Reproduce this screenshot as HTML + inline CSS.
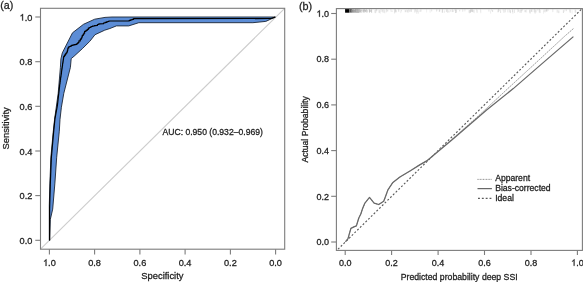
<!DOCTYPE html>
<html><head><meta charset="utf-8"><title>ROC and calibration</title><style>
html,body{margin:0;padding:0;background:#fff;width:583px;height:282px;overflow:hidden}
svg{display:block}
text{font-family:"Liberation Sans",sans-serif;fill:#1e1e1e;stroke:#1e1e1e;stroke-width:0.28px}
</style></head><body>
<svg width="583" height="282" viewBox="0 0 583 282">
<defs><filter id="bl" x="0" y="0" width="1" height="1"><feGaussianBlur stdDeviation="0.35"/></filter><clipPath id="rc"><rect x="336.4" y="8.6" width="246" height="241.8"/></clipPath></defs>
<g filter="url(#bl)">
<rect width="583" height="282" fill="#fff"/>
<g id="left">
<line x1="40.5" y1="249.2" x2="284.7" y2="8.3" stroke="#cdcdcd" stroke-width="1.1"/>
<polygon points="49.3,240.3 49.3,222.0 49.3,205.1 49.9,183.1 50.9,157.2 53.3,131.2 54.6,119.3 58.2,93.3 60.4,67.4 60.9,58.9 62.3,52.9 72.5,32.8 83.5,24.3 94.7,19.2 105.0,17.4 112.0,17.0 275.3,17.0 275.3,17.0 265.8,21.4 252.9,22.7 138.8,22.7 128.7,25.9 116.4,25.9 109.9,28.5 104.7,30.2 95.0,34.7 89.8,41.3 82.3,48.7 74.1,56.2 71.2,58.6 70.4,67.4 63.8,93.3 61.4,107.2 60.0,119.3 59.3,131.2 56.7,157.2 54.9,183.1 52.7,209.1 50.3,219.5 49.6,240.3" fill="#5b8dd6" stroke="#1c2636" stroke-width="0.9" stroke-linejoin="miter"/>
<polyline points="49.6,240.4 49.6,222.0 49.6,209.1 50.3,184.1 51.3,158.2 53.6,132.2 55.0,118.3 57.4,105.3 58.9,92.3 59.6,86.3 59.6,86.3 59.6,85.1 59.8,85.1 59.8,83.8 60.0,83.8 60.0,82.6 60.1,82.6 60.1,81.4 60.3,81.4 60.3,80.1 60.5,80.1 60.5,78.9 60.6,78.9 60.6,77.6 60.8,77.6 60.8,76.4 61.0,76.4 61.0,75.0 61.2,75.0 61.2,73.7 61.4,73.7 61.4,72.4 61.5,72.4 61.5,71.0 61.7,71.0 61.7,69.7 61.9,69.7 61.9,68.4 62.1,68.4 62.1,67.2 62.3,67.2 62.3,66.0 62.5,66.0 62.5,64.8 62.6,64.8 62.6,63.6 62.8,63.6 62.8,62.4 63.0,62.4 63.0,61.2 63.2,61.2 63.2,60.1 63.4,60.1 63.4,58.9 63.5,58.9 63.5,57.7 63.7,57.7 63.7,56.4 64.5,56.4 64.5,55.2 65.4,55.2 65.4,53.9 66.2,53.9 66.2,52.9 66.8,52.9 66.8,51.9 67.4,51.9 67.4,50.4 67.7,50.4 67.7,48.9 68.0,48.9 68.0,47.9 68.7,47.9 68.7,46.8 69.4,46.8 69.4,46.5 70.4,46.5 70.4,46.1 71.4,46.1 71.4,45.4 72.4,45.4 72.4,45.2 73.4,45.2 73.4,44.9 74.4,44.9 74.4,44.7 75.7,44.7 75.7,44.4 76.9,44.4 76.9,43.5 77.9,43.5 77.9,42.6 78.9,42.6 78.9,40.9 80.3,40.9 80.3,39.2 81.3,39.2 81.3,38.1 81.8,38.1 81.8,36.9 82.3,36.9 82.3,35.3 83.3,35.3 83.3,34.2 83.9,34.2 83.9,33.2 84.6,33.2 84.6,31.3 86.0,31.3 86.0,30.4 87.2,30.4 87.2,29.5 88.3,29.5 88.3,28.1 89.4,28.1 89.4,27.5 90.9,27.5 90.9,26.5 92.4,26.5 92.4,26.2 93.4,26.2 93.4,26.0 94.4,26.0 94.4,25.7 95.9,25.7 95.9,25.5 97.4,25.5 97.4,24.5 98.8,24.5 98.8,23.8 100.0,23.8 103.5,23.7 103.5,23.0 105.0,23.0 105.0,22.4 106.5,22.4 106.5,21.9 107.6,21.9 107.6,21.5 108.8,21.5 108.8,21.0 109.9,21.0 129.2,21.0 129.2,20.4 130.6,20.4 130.6,19.8 132.1,19.8 132.1,19.3 133.6,19.3 133.6,18.7 135.0,18.7 271.0,18.5 275.3,17.1" fill="none" stroke="#000" stroke-width="1.2" stroke-linejoin="round"/>
<rect x="40.5" y="8.3" width="244.2" height="240.9" fill="none" stroke="#7c7c7c" stroke-width="1.1"/>
<line x1="35.3" y1="240.3" x2="40.5" y2="240.3" stroke="#7c7c7c" stroke-width="1.1"/>
<text x="32.4" y="243.8" font-size="9.2" text-anchor="end">0.0</text>
<line x1="35.3" y1="195.6" x2="40.5" y2="195.6" stroke="#7c7c7c" stroke-width="1.1"/>
<text x="32.4" y="199.1" font-size="9.2" text-anchor="end">0.2</text>
<line x1="35.3" y1="151.0" x2="40.5" y2="151.0" stroke="#7c7c7c" stroke-width="1.1"/>
<text x="32.4" y="154.5" font-size="9.2" text-anchor="end">0.4</text>
<line x1="35.3" y1="106.3" x2="40.5" y2="106.3" stroke="#7c7c7c" stroke-width="1.1"/>
<text x="32.4" y="109.8" font-size="9.2" text-anchor="end">0.6</text>
<line x1="35.3" y1="61.7" x2="40.5" y2="61.7" stroke="#7c7c7c" stroke-width="1.1"/>
<text x="32.4" y="65.2" font-size="9.2" text-anchor="end">0.8</text>
<line x1="35.3" y1="17.0" x2="40.5" y2="17.0" stroke="#7c7c7c" stroke-width="1.1"/>
<path transform="translate(19.61,20.50) scale(0.00449,-0.00449)" d="M763 0H583V1147Q518 1085 412 1023Q307 961 223 930V1104Q374 1175 487 1276Q600 1377 647 1472H763Z" fill="#1e1e1e" stroke="#1e1e1e" stroke-width="62.3"/><text x="24.73" y="20.5" font-size="9.2">.0</text>
<line x1="49.4" y1="249.2" x2="49.4" y2="254.4" stroke="#7c7c7c" stroke-width="1.1"/>
<path transform="translate(43.01,265.90) scale(0.00449,-0.00449)" d="M763 0H583V1147Q518 1085 412 1023Q307 961 223 930V1104Q374 1175 487 1276Q600 1377 647 1472H763Z" fill="#1e1e1e" stroke="#1e1e1e" stroke-width="62.3"/><text x="48.12" y="265.9" font-size="9.2">.0</text>
<line x1="94.6" y1="249.2" x2="94.6" y2="254.4" stroke="#7c7c7c" stroke-width="1.1"/>
<text x="94.6" y="265.9" font-size="9.2" text-anchor="middle">0.8</text>
<line x1="139.9" y1="249.2" x2="139.9" y2="254.4" stroke="#7c7c7c" stroke-width="1.1"/>
<text x="139.9" y="265.9" font-size="9.2" text-anchor="middle">0.6</text>
<line x1="185.1" y1="249.2" x2="185.1" y2="254.4" stroke="#7c7c7c" stroke-width="1.1"/>
<text x="185.1" y="265.9" font-size="9.2" text-anchor="middle">0.4</text>
<line x1="230.4" y1="249.2" x2="230.4" y2="254.4" stroke="#7c7c7c" stroke-width="1.1"/>
<text x="230.4" y="265.9" font-size="9.2" text-anchor="middle">0.2</text>
<line x1="275.6" y1="249.2" x2="275.6" y2="254.4" stroke="#7c7c7c" stroke-width="1.1"/>
<text x="275.6" y="265.9" font-size="9.2" text-anchor="middle">0.0</text>
<text x="162.4" y="279.4" font-size="9.4" text-anchor="middle">Specificity</text>
<text transform="translate(9.3,128.4) rotate(-90)" font-size="9.4" text-anchor="middle">Sensitivity</text>
<text x="162.5" y="135" font-size="8.6">AUC: 0.950 (0.932&#8211;0.969)</text>
<text x="0.3" y="8.9" font-size="10.7">(a)</text>
</g>
<g id="right">
<g><rect x="345.1" y="8.8" width="4.2" height="3.9" fill="#000"/><rect x="349.3" y="9" width="2.6" height="3.6" fill="#5a5a5a"/><line x1="352.8" y1="9.4" x2="352.8" y2="12.1" stroke="#8c8c8c" stroke-width="0.5"/><line x1="355.4" y1="9.5" x2="355.4" y2="11.6" stroke="#8c8c8c" stroke-width="0.5"/><line x1="351.9" y1="9.7" x2="351.9" y2="11.9" stroke="#8c8c8c" stroke-width="0.5"/><line x1="352.8" y1="9.8" x2="352.8" y2="12.2" stroke="#8c8c8c" stroke-width="0.5"/><line x1="357.4" y1="9.4" x2="357.4" y2="12.5" stroke="#8c8c8c" stroke-width="0.5"/><line x1="352.4" y1="9.5" x2="352.4" y2="12.8" stroke="#8c8c8c" stroke-width="0.5"/><line x1="354.7" y1="9.6" x2="354.7" y2="12.5" stroke="#8c8c8c" stroke-width="0.5"/><line x1="352.0" y1="9.6" x2="352.0" y2="12.4" stroke="#8c8c8c" stroke-width="0.5"/><line x1="353.2" y1="9.0" x2="353.2" y2="12.8" stroke="#8c8c8c" stroke-width="0.5"/><line x1="354.4" y1="9.6" x2="354.4" y2="12.8" stroke="#8c8c8c" stroke-width="0.5"/><line x1="356.3" y1="9.7" x2="356.3" y2="12.1" stroke="#8c8c8c" stroke-width="0.5"/><line x1="357.0" y1="9.4" x2="357.0" y2="12.9" stroke="#8c8c8c" stroke-width="0.5"/><line x1="357.7" y1="9.1" x2="357.7" y2="11.7" stroke="#8c8c8c" stroke-width="0.5"/><line x1="352.7" y1="9.8" x2="352.7" y2="12.2" stroke="#8c8c8c" stroke-width="0.5"/><line x1="355.5" y1="9.2" x2="355.5" y2="12.3" stroke="#8c8c8c" stroke-width="0.5"/><line x1="353.7" y1="9.3" x2="353.7" y2="12.4" stroke="#8c8c8c" stroke-width="0.5"/><line x1="355.2" y1="9.7" x2="355.2" y2="12.5" stroke="#8c8c8c" stroke-width="0.5"/><line x1="358.2" y1="9.7" x2="358.2" y2="13.0" stroke="#8c8c8c" stroke-width="0.5"/><line x1="355.9" y1="9.1" x2="355.9" y2="12.8" stroke="#8c8c8c" stroke-width="0.5"/><line x1="358.6" y1="9.7" x2="358.6" y2="12.4" stroke="#8c8c8c" stroke-width="0.5"/><line x1="356.3" y1="9.2" x2="356.3" y2="12.7" stroke="#8c8c8c" stroke-width="0.5"/><line x1="355.1" y1="9.2" x2="355.1" y2="11.6" stroke="#8c8c8c" stroke-width="0.5"/><line x1="357.5" y1="9.8" x2="357.5" y2="11.6" stroke="#8c8c8c" stroke-width="0.5"/><line x1="357.0" y1="9.3" x2="357.0" y2="11.7" stroke="#8c8c8c" stroke-width="0.5"/><line x1="353.2" y1="9.6" x2="353.2" y2="12.8" stroke="#8c8c8c" stroke-width="0.5"/><line x1="352.0" y1="9.5" x2="352.0" y2="11.6" stroke="#8c8c8c" stroke-width="0.5"/><line x1="366.8" y1="9.4" x2="366.8" y2="12.8" stroke="#b8b8b8" stroke-width="0.5"/><line x1="371.6" y1="9.6" x2="371.6" y2="13.0" stroke="#b8b8b8" stroke-width="0.5"/><line x1="359.9" y1="9.1" x2="359.9" y2="12.2" stroke="#b8b8b8" stroke-width="0.5"/><line x1="356.3" y1="9.2" x2="356.3" y2="11.8" stroke="#b8b8b8" stroke-width="0.5"/><line x1="364.8" y1="9.2" x2="364.8" y2="11.1" stroke="#b8b8b8" stroke-width="0.5"/><line x1="369.5" y1="9.4" x2="369.5" y2="12.9" stroke="#b8b8b8" stroke-width="0.5"/><line x1="370.0" y1="9.5" x2="370.0" y2="11.9" stroke="#b8b8b8" stroke-width="0.5"/><line x1="363.3" y1="9.8" x2="363.3" y2="12.2" stroke="#b8b8b8" stroke-width="0.5"/><line x1="364.0" y1="9.7" x2="364.0" y2="12.9" stroke="#b8b8b8" stroke-width="0.5"/><line x1="363.1" y1="9.5" x2="363.1" y2="12.4" stroke="#b8b8b8" stroke-width="0.5"/><line x1="358.9" y1="9.4" x2="358.9" y2="13.0" stroke="#b8b8b8" stroke-width="0.5"/><line x1="363.3" y1="9.7" x2="363.3" y2="11.0" stroke="#b8b8b8" stroke-width="0.5"/><line x1="361.6" y1="9.7" x2="361.6" y2="11.0" stroke="#b8b8b8" stroke-width="0.5"/><line x1="364.9" y1="9.8" x2="364.9" y2="11.1" stroke="#b8b8b8" stroke-width="0.5"/><line x1="365.1" y1="9.6" x2="365.1" y2="12.4" stroke="#b8b8b8" stroke-width="0.5"/><line x1="360.6" y1="9.8" x2="360.6" y2="12.5" stroke="#b8b8b8" stroke-width="0.5"/><line x1="356.2" y1="9.1" x2="356.2" y2="12.4" stroke="#b8b8b8" stroke-width="0.5"/><line x1="371.3" y1="9.3" x2="371.3" y2="11.9" stroke="#b8b8b8" stroke-width="0.5"/><line x1="364.5" y1="9.4" x2="364.5" y2="11.7" stroke="#b8b8b8" stroke-width="0.5"/><line x1="360.0" y1="9.4" x2="360.0" y2="12.2" stroke="#b8b8b8" stroke-width="0.5"/><line x1="359.8" y1="9.5" x2="359.8" y2="12.5" stroke="#b8b8b8" stroke-width="0.5"/><line x1="356.2" y1="9.7" x2="356.2" y2="12.5" stroke="#b8b8b8" stroke-width="0.5"/><line x1="359.9" y1="9.3" x2="359.9" y2="12.6" stroke="#b8b8b8" stroke-width="0.5"/><line x1="358.9" y1="9.2" x2="358.9" y2="11.9" stroke="#b8b8b8" stroke-width="0.5"/><line x1="366.4" y1="9.1" x2="366.4" y2="11.6" stroke="#b8b8b8" stroke-width="0.5"/><line x1="360.3" y1="10.0" x2="360.3" y2="11.9" stroke="#b8b8b8" stroke-width="0.5"/><line x1="369.3" y1="9.2" x2="369.3" y2="11.7" stroke="#b8b8b8" stroke-width="0.5"/><line x1="365.5" y1="10.1" x2="365.5" y2="11.9" stroke="#b8b8b8" stroke-width="0.5"/><line x1="358.7" y1="9.1" x2="358.7" y2="12.1" stroke="#b8b8b8" stroke-width="0.5"/><line x1="358.2" y1="10.0" x2="358.2" y2="12.7" stroke="#b8b8b8" stroke-width="0.5"/><line x1="358.1" y1="9.3" x2="358.1" y2="12.6" stroke="#b8b8b8" stroke-width="0.5"/><line x1="365.4" y1="10.0" x2="365.4" y2="11.7" stroke="#b8b8b8" stroke-width="0.5"/><line x1="357.4" y1="9.4" x2="357.4" y2="12.6" stroke="#b8b8b8" stroke-width="0.5"/><line x1="359.3" y1="9.4" x2="359.3" y2="11.8" stroke="#b8b8b8" stroke-width="0.5"/><line x1="361.6" y1="9.5" x2="361.6" y2="12.8" stroke="#b8b8b8" stroke-width="0.5"/><line x1="357.7" y1="9.0" x2="357.7" y2="12.9" stroke="#b8b8b8" stroke-width="0.5"/><line x1="369.7" y1="10.2" x2="369.7" y2="11.9" stroke="#b8b8b8" stroke-width="0.5"/><line x1="371.0" y1="10.1" x2="371.0" y2="11.4" stroke="#b8b8b8" stroke-width="0.5"/><line x1="367.2" y1="10.0" x2="367.2" y2="12.3" stroke="#b8b8b8" stroke-width="0.5"/><line x1="363.3" y1="9.3" x2="363.3" y2="11.7" stroke="#b8b8b8" stroke-width="0.5"/><line x1="416.9" y1="10.3" x2="416.9" y2="13.7" stroke="#d0d0d0" stroke-width="0.6"/><line x1="394.7" y1="9.1" x2="394.7" y2="12.4" stroke="#d8d8d8" stroke-width="0.6"/><line x1="512.9" y1="10.3" x2="512.9" y2="13.6" stroke="#d8d8d8" stroke-width="0.6"/><line x1="488.9" y1="9.7" x2="488.9" y2="11.5" stroke="#d0d0d0" stroke-width="0.6"/><line x1="473.7" y1="10.0" x2="473.7" y2="12.5" stroke="#d8d8d8" stroke-width="0.6"/><line x1="455.2" y1="9.2" x2="455.2" y2="10.9" stroke="#c8c8c8" stroke-width="0.6"/><line x1="570.2" y1="9.7" x2="570.2" y2="12.8" stroke="#c8c8c8" stroke-width="0.6"/><line x1="442.5" y1="9.2" x2="442.5" y2="12.5" stroke="#d8d8d8" stroke-width="0.6"/><line x1="394.6" y1="10.2" x2="394.6" y2="13.5" stroke="#d8d8d8" stroke-width="0.6"/><line x1="536.0" y1="9.7" x2="536.0" y2="12.4" stroke="#d0d0d0" stroke-width="0.6"/><line x1="452.5" y1="9.4" x2="452.5" y2="12.1" stroke="#e0e0e0" stroke-width="0.6"/><line x1="477.1" y1="9.7" x2="477.1" y2="12.8" stroke="#d0d0d0" stroke-width="0.6"/><line x1="370.4" y1="10.2" x2="370.4" y2="11.8" stroke="#d0d0d0" stroke-width="0.6"/><line x1="380.3" y1="10.5" x2="380.3" y2="13.7" stroke="#e6e6e6" stroke-width="0.6"/><line x1="387.7" y1="9.7" x2="387.7" y2="11.5" stroke="#c8c8c8" stroke-width="0.6"/><line x1="384.8" y1="10.0" x2="384.8" y2="12.6" stroke="#e6e6e6" stroke-width="0.6"/><line x1="444.3" y1="10.5" x2="444.3" y2="12.8" stroke="#d8d8d8" stroke-width="0.6"/><line x1="396.3" y1="10.1" x2="396.3" y2="12.3" stroke="#d0d0d0" stroke-width="0.6"/><line x1="386.5" y1="9.1" x2="386.5" y2="11.5" stroke="#d8d8d8" stroke-width="0.6"/><line x1="504.0" y1="9.6" x2="504.0" y2="12.7" stroke="#c8c8c8" stroke-width="0.6"/><line x1="498.3" y1="9.1" x2="498.3" y2="11.8" stroke="#e6e6e6" stroke-width="0.6"/><line x1="526.6" y1="9.6" x2="526.6" y2="12.5" stroke="#e0e0e0" stroke-width="0.6"/><line x1="464.9" y1="9.3" x2="464.9" y2="11.4" stroke="#d8d8d8" stroke-width="0.6"/><line x1="491.5" y1="9.3" x2="491.5" y2="11.1" stroke="#e6e6e6" stroke-width="0.6"/><line x1="375.8" y1="9.6" x2="375.8" y2="12.9" stroke="#e0e0e0" stroke-width="0.6"/><line x1="532.9" y1="9.2" x2="532.9" y2="12.1" stroke="#e0e0e0" stroke-width="0.6"/><line x1="563.4" y1="10.2" x2="563.4" y2="13.0" stroke="#c8c8c8" stroke-width="0.6"/><line x1="521.1" y1="9.8" x2="521.1" y2="12.9" stroke="#c8c8c8" stroke-width="0.6"/><line x1="517.6" y1="9.2" x2="517.6" y2="12.3" stroke="#e6e6e6" stroke-width="0.6"/><line x1="379.1" y1="9.8" x2="379.1" y2="12.7" stroke="#d0d0d0" stroke-width="0.6"/><line x1="447.4" y1="9.5" x2="447.4" y2="12.7" stroke="#d0d0d0" stroke-width="0.6"/><line x1="375.2" y1="10.0" x2="375.2" y2="13.2" stroke="#d0d0d0" stroke-width="0.6"/><line x1="566.2" y1="9.4" x2="566.2" y2="11.1" stroke="#c8c8c8" stroke-width="0.6"/><line x1="575.2" y1="9.8" x2="575.2" y2="12.7" stroke="#c8c8c8" stroke-width="0.6"/><line x1="392.0" y1="10.4" x2="392.0" y2="12.0" stroke="#d0d0d0" stroke-width="0.6"/><line x1="436.8" y1="9.3" x2="436.8" y2="10.9" stroke="#c8c8c8" stroke-width="0.6"/><line x1="575.7" y1="9.7" x2="575.7" y2="12.6" stroke="#d8d8d8" stroke-width="0.6"/><line x1="564.2" y1="9.6" x2="564.2" y2="11.8" stroke="#e0e0e0" stroke-width="0.6"/><line x1="442.2" y1="10.4" x2="442.2" y2="12.7" stroke="#e6e6e6" stroke-width="0.6"/><line x1="418.5" y1="10.3" x2="418.5" y2="13.7" stroke="#e6e6e6" stroke-width="0.6"/><line x1="455.5" y1="10.1" x2="455.5" y2="13.0" stroke="#c8c8c8" stroke-width="0.6"/><line x1="476.5" y1="9.2" x2="476.5" y2="11.5" stroke="#e6e6e6" stroke-width="0.6"/><line x1="552.8" y1="9.1" x2="552.8" y2="12.1" stroke="#d8d8d8" stroke-width="0.6"/><line x1="558.8" y1="10.4" x2="558.8" y2="13.1" stroke="#c8c8c8" stroke-width="0.6"/><line x1="546.8" y1="9.4" x2="546.8" y2="11.3" stroke="#d8d8d8" stroke-width="0.6"/><line x1="490.6" y1="10.4" x2="490.6" y2="13.6" stroke="#e0e0e0" stroke-width="0.6"/><line x1="480.8" y1="10.0" x2="480.8" y2="13.2" stroke="#e0e0e0" stroke-width="0.6"/><line x1="492.6" y1="9.9" x2="492.6" y2="11.9" stroke="#c8c8c8" stroke-width="0.6"/><line x1="414.8" y1="9.4" x2="414.8" y2="12.5" stroke="#d0d0d0" stroke-width="0.6"/><line x1="411.3" y1="9.5" x2="411.3" y2="11.7" stroke="#c8c8c8" stroke-width="0.6"/><line x1="529.5" y1="9.6" x2="529.5" y2="12.5" stroke="#d8d8d8" stroke-width="0.6"/><line x1="514.5" y1="9.7" x2="514.5" y2="12.9" stroke="#d8d8d8" stroke-width="0.6"/><line x1="539.3" y1="9.0" x2="539.3" y2="12.5" stroke="#c8c8c8" stroke-width="0.6"/><line x1="384.9" y1="10.2" x2="384.9" y2="13.4" stroke="#e6e6e6" stroke-width="0.6"/><line x1="379.4" y1="10.3" x2="379.4" y2="13.1" stroke="#d8d8d8" stroke-width="0.6"/><line x1="530.1" y1="10.4" x2="530.1" y2="13.6" stroke="#d0d0d0" stroke-width="0.6"/><line x1="419.9" y1="10.2" x2="419.9" y2="11.9" stroke="#d8d8d8" stroke-width="0.6"/><line x1="498.1" y1="10.3" x2="498.1" y2="12.4" stroke="#d0d0d0" stroke-width="0.6"/><line x1="548.2" y1="9.3" x2="548.2" y2="11.0" stroke="#e0e0e0" stroke-width="0.6"/><line x1="534.6" y1="9.1" x2="534.6" y2="12.3" stroke="#d0d0d0" stroke-width="0.6"/><line x1="430.1" y1="9.7" x2="430.1" y2="12.6" stroke="#e0e0e0" stroke-width="0.6"/><line x1="439.3" y1="9.5" x2="439.3" y2="11.9" stroke="#d0d0d0" stroke-width="0.6"/><line x1="470.1" y1="10.0" x2="470.1" y2="13.0" stroke="#d8d8d8" stroke-width="0.6"/><line x1="470.9" y1="9.8" x2="470.9" y2="11.6" stroke="#d8d8d8" stroke-width="0.6"/><line x1="426.6" y1="9.2" x2="426.6" y2="12.4" stroke="#e6e6e6" stroke-width="0.6"/><line x1="557.2" y1="9.8" x2="557.2" y2="12.7" stroke="#d0d0d0" stroke-width="0.6"/><line x1="509.8" y1="10.1" x2="509.8" y2="12.2" stroke="#e0e0e0" stroke-width="0.6"/><line x1="509.2" y1="9.2" x2="509.2" y2="12.5" stroke="#e0e0e0" stroke-width="0.6"/><line x1="439.7" y1="9.8" x2="439.7" y2="11.5" stroke="#c8c8c8" stroke-width="0.6"/><line x1="471.7" y1="9.1" x2="471.7" y2="11.2" stroke="#e0e0e0" stroke-width="0.6"/><line x1="519.9" y1="10.0" x2="519.9" y2="12.9" stroke="#d8d8d8" stroke-width="0.6"/><line x1="400.8" y1="10.3" x2="400.8" y2="13.1" stroke="#e0e0e0" stroke-width="0.6"/><line x1="395.4" y1="9.2" x2="395.4" y2="11.4" stroke="#c8c8c8" stroke-width="0.6"/><line x1="518.4" y1="9.6" x2="518.4" y2="11.7" stroke="#c8c8c8" stroke-width="0.6"/><line x1="408.5" y1="9.5" x2="408.5" y2="11.3" stroke="#e6e6e6" stroke-width="0.6"/><line x1="384.1" y1="10.1" x2="384.1" y2="12.7" stroke="#d8d8d8" stroke-width="0.6"/><line x1="522.4" y1="9.1" x2="522.4" y2="11.2" stroke="#e0e0e0" stroke-width="0.6"/><line x1="381.0" y1="9.1" x2="381.0" y2="11.6" stroke="#d8d8d8" stroke-width="0.6"/><line x1="420.9" y1="9.5" x2="420.9" y2="11.7" stroke="#c8c8c8" stroke-width="0.6"/><line x1="453.1" y1="10.2" x2="453.1" y2="11.9" stroke="#c8c8c8" stroke-width="0.6"/><line x1="472.6" y1="9.2" x2="472.6" y2="11.9" stroke="#d0d0d0" stroke-width="0.6"/><line x1="510.4" y1="10.2" x2="510.4" y2="13.1" stroke="#c8c8c8" stroke-width="0.6"/><line x1="408.1" y1="9.9" x2="408.1" y2="12.7" stroke="#d8d8d8" stroke-width="0.6"/><line x1="450.6" y1="9.9" x2="450.6" y2="11.7" stroke="#d8d8d8" stroke-width="0.6"/><line x1="452.1" y1="9.8" x2="452.1" y2="11.7" stroke="#d8d8d8" stroke-width="0.6"/><line x1="406.9" y1="9.6" x2="406.9" y2="11.6" stroke="#e0e0e0" stroke-width="0.6"/><line x1="543.5" y1="10.3" x2="543.5" y2="13.7" stroke="#e6e6e6" stroke-width="0.6"/><line x1="448.9" y1="10.4" x2="448.9" y2="12.5" stroke="#c8c8c8" stroke-width="0.6"/><line x1="472.6" y1="10.0" x2="472.6" y2="12.1" stroke="#c8c8c8" stroke-width="0.6"/><line x1="547.2" y1="9.0" x2="547.2" y2="10.9" stroke="#e6e6e6" stroke-width="0.6"/><line x1="500.6" y1="10.2" x2="500.6" y2="13.0" stroke="#d0d0d0" stroke-width="0.6"/><line x1="471.3" y1="9.9" x2="471.3" y2="11.8" stroke="#c8c8c8" stroke-width="0.6"/><line x1="531.1" y1="9.1" x2="531.1" y2="11.6" stroke="#d8d8d8" stroke-width="0.6"/><line x1="503.1" y1="9.2" x2="503.1" y2="11.2" stroke="#e6e6e6" stroke-width="0.6"/><line x1="505.4" y1="9.2" x2="505.4" y2="12.3" stroke="#d8d8d8" stroke-width="0.6"/><line x1="498.4" y1="9.0" x2="498.4" y2="11.8" stroke="#d0d0d0" stroke-width="0.6"/><line x1="474.2" y1="9.8" x2="474.2" y2="13.2" stroke="#e6e6e6" stroke-width="0.6"/><line x1="436.6" y1="10.0" x2="436.6" y2="11.8" stroke="#e0e0e0" stroke-width="0.6"/><line x1="546.8" y1="10.2" x2="546.8" y2="11.7" stroke="#c8c8c8" stroke-width="0.6"/><line x1="386.5" y1="10.5" x2="386.5" y2="12.4" stroke="#e0e0e0" stroke-width="0.6"/><line x1="383.0" y1="9.7" x2="383.0" y2="12.7" stroke="#d8d8d8" stroke-width="0.6"/><line x1="469.9" y1="10.2" x2="469.9" y2="12.5" stroke="#d0d0d0" stroke-width="0.6"/><line x1="544.1" y1="9.6" x2="544.1" y2="12.0" stroke="#d8d8d8" stroke-width="0.6"/><line x1="384.0" y1="9.3" x2="384.0" y2="11.8" stroke="#e6e6e6" stroke-width="0.6"/><line x1="374.8" y1="10.1" x2="374.8" y2="12.4" stroke="#e6e6e6" stroke-width="0.6"/><line x1="407.2" y1="10.1" x2="407.2" y2="12.3" stroke="#d0d0d0" stroke-width="0.6"/><line x1="446.4" y1="9.5" x2="446.4" y2="11.8" stroke="#c8c8c8" stroke-width="0.6"/><line x1="569.8" y1="9.4" x2="569.8" y2="11.6" stroke="#d8d8d8" stroke-width="0.6"/><line x1="546.2" y1="9.3" x2="546.2" y2="11.2" stroke="#c8c8c8" stroke-width="0.6"/><line x1="405.2" y1="9.8" x2="405.2" y2="12.5" stroke="#e6e6e6" stroke-width="0.6"/><line x1="398.7" y1="9.3" x2="398.7" y2="11.7" stroke="#c8c8c8" stroke-width="0.6"/><line x1="382.3" y1="9.6" x2="382.3" y2="11.7" stroke="#d0d0d0" stroke-width="0.6"/><line x1="376.8" y1="9.4" x2="376.8" y2="10.9" stroke="#d0d0d0" stroke-width="0.6"/><line x1="471.6" y1="9.4" x2="471.6" y2="11.6" stroke="#d8d8d8" stroke-width="0.6"/><line x1="409.3" y1="9.9" x2="409.3" y2="12.1" stroke="#e0e0e0" stroke-width="0.6"/><line x1="395.5" y1="10.2" x2="395.5" y2="12.3" stroke="#d0d0d0" stroke-width="0.6"/><line x1="572.1" y1="10.2" x2="572.1" y2="13.6" stroke="#e6e6e6" stroke-width="0.6"/><line x1="470.6" y1="9.4" x2="470.6" y2="12.5" stroke="#c8c8c8" stroke-width="0.6"/><line x1="499.6" y1="9.5" x2="499.6" y2="11.1" stroke="#e0e0e0" stroke-width="0.6"/><line x1="459.7" y1="9.9" x2="459.7" y2="11.4" stroke="#d0d0d0" stroke-width="0.6"/><line x1="376.2" y1="9.0" x2="376.2" y2="11.5" stroke="#d0d0d0" stroke-width="0.6"/><line x1="469.3" y1="10.0" x2="469.3" y2="13.3" stroke="#d8d8d8" stroke-width="0.6"/><line x1="411.3" y1="9.5" x2="411.3" y2="12.0" stroke="#e6e6e6" stroke-width="0.6"/><line x1="442.4" y1="9.6" x2="442.4" y2="12.6" stroke="#d0d0d0" stroke-width="0.6"/><line x1="500.1" y1="9.1" x2="500.1" y2="11.2" stroke="#e6e6e6" stroke-width="0.6"/><line x1="545.1" y1="9.8" x2="545.1" y2="12.4" stroke="#d0d0d0" stroke-width="0.6"/><line x1="480.5" y1="9.3" x2="480.5" y2="12.2" stroke="#e6e6e6" stroke-width="0.6"/><line x1="521.2" y1="9.5" x2="521.2" y2="11.4" stroke="#c8c8c8" stroke-width="0.6"/><line x1="535.1" y1="9.3" x2="535.1" y2="12.4" stroke="#e6e6e6" stroke-width="0.6"/><line x1="469.0" y1="10.2" x2="469.0" y2="12.7" stroke="#e0e0e0" stroke-width="0.6"/><line x1="525.1" y1="10.4" x2="525.1" y2="12.0" stroke="#e6e6e6" stroke-width="0.6"/><line x1="405.4" y1="10.2" x2="405.4" y2="11.9" stroke="#d0d0d0" stroke-width="0.6"/><line x1="512.5" y1="9.5" x2="512.5" y2="12.2" stroke="#d0d0d0" stroke-width="0.6"/><line x1="535.1" y1="10.3" x2="535.1" y2="13.6" stroke="#d0d0d0" stroke-width="0.6"/><line x1="462.7" y1="10.5" x2="462.7" y2="12.0" stroke="#e0e0e0" stroke-width="0.6"/><line x1="410.1" y1="9.5" x2="410.1" y2="11.6" stroke="#d0d0d0" stroke-width="0.6"/><line x1="462.8" y1="9.4" x2="462.8" y2="11.0" stroke="#d8d8d8" stroke-width="0.6"/><line x1="401.5" y1="9.9" x2="401.5" y2="11.4" stroke="#d8d8d8" stroke-width="0.6"/><line x1="417.4" y1="9.3" x2="417.4" y2="12.0" stroke="#d8d8d8" stroke-width="0.6"/><line x1="456.4" y1="9.5" x2="456.4" y2="12.7" stroke="#c8c8c8" stroke-width="0.6"/><line x1="531.1" y1="9.3" x2="531.1" y2="10.9" stroke="#e6e6e6" stroke-width="0.6"/><line x1="540.1" y1="9.9" x2="540.1" y2="13.1" stroke="#d0d0d0" stroke-width="0.6"/><line x1="390.9" y1="9.1" x2="390.9" y2="11.6" stroke="#e0e0e0" stroke-width="0.6"/><line x1="415.9" y1="9.2" x2="415.9" y2="11.6" stroke="#c8c8c8" stroke-width="0.6"/><line x1="507.7" y1="9.6" x2="507.7" y2="12.4" stroke="#e0e0e0" stroke-width="0.6"/><line x1="530.2" y1="10.3" x2="530.2" y2="12.9" stroke="#e0e0e0" stroke-width="0.6"/><line x1="537.8" y1="9.2" x2="537.8" y2="10.7" stroke="#d8d8d8" stroke-width="0.6"/><line x1="431.7" y1="9.5" x2="431.7" y2="11.4" stroke="#d0d0d0" stroke-width="0.6"/><line x1="525.2" y1="10.0" x2="525.2" y2="12.3" stroke="#c8c8c8" stroke-width="0.6"/><line x1="531.5" y1="9.9" x2="531.5" y2="11.8" stroke="#d0d0d0" stroke-width="0.6"/></g>
<g clip-path="url(#rc)"><line x1="336.4" y1="250.8" x2="582.4" y2="8.3" stroke="#5a5a5a" stroke-width="1.15" stroke-dasharray="1.93,1.929" stroke-dashoffset="1.594"/></g>
<polyline points="345.5,241.6 347.9,238.9 350.9,228.4 353.9,226.9 356.4,225.9 358.8,218.0 360.8,214.0 362.4,209.1 364.9,203.1 369.5,197.4 374.1,203.1 378.7,204.5 383.7,201.3 385.7,196.0 387.9,189.9 392.9,182.4 399.9,177.0 410.8,170.5 419.7,164.9 426.7,160.9 453.9,137.6 480.0,114.5 507.8,88.6 534.4,64.2 564.7,36.2 573.9,28.2" fill="none" stroke="#cfcfcf" stroke-width="0.9"/>
<polyline points="345.5,241.6 347.9,238.9 350.9,228.4 353.9,226.9 356.4,225.9 358.8,218.0 360.8,214.0 362.4,209.1 364.9,203.1 369.5,197.4 374.1,203.1 378.7,204.5 383.7,201.3 385.7,196.0 387.9,189.9 392.9,182.4 399.9,177.0 410.8,170.5 419.7,164.9 426.7,160.9 453.9,137.6 480.0,114.5 507.8,88.6 534.4,64.2 564.7,36.2 573.9,28.2" fill="none" stroke="#8a8a8a" stroke-width="0.9" stroke-dasharray="0.9,1.9"/>
<polyline points="345.5,241.6 347.9,238.9 350.9,228.4 353.9,226.9 356.4,225.9 358.8,218.0 360.8,214.0 362.4,209.1 364.9,203.1 369.5,197.4 374.1,203.1 378.7,204.5 383.7,201.3 385.7,196.0 387.9,189.9 392.9,182.4 399.9,177.0 410.8,170.5 419.7,164.9 426.7,160.9 453.9,138.2 486.6,110.0 513.3,88.6 540.9,64.6 573.4,36.6" fill="none" stroke="#686868" stroke-width="1.25" stroke-linejoin="round"/>
<rect x="336.4" y="8.6" width="246.0" height="241.8" fill="none" stroke="#7c7c7c" stroke-width="1.1"/>
<line x1="331.2" y1="242.0" x2="336.4" y2="242.0" stroke="#7c7c7c" stroke-width="1.1"/>
<text x="329.0" y="245.2" font-size="9" text-anchor="end">0.0</text>
<line x1="331.2" y1="196.3" x2="336.4" y2="196.3" stroke="#7c7c7c" stroke-width="1.1"/>
<text x="329.0" y="199.5" font-size="9" text-anchor="end">0.2</text>
<line x1="331.2" y1="150.6" x2="336.4" y2="150.6" stroke="#7c7c7c" stroke-width="1.1"/>
<text x="329.0" y="153.8" font-size="9" text-anchor="end">0.4</text>
<line x1="331.2" y1="104.9" x2="336.4" y2="104.9" stroke="#7c7c7c" stroke-width="1.1"/>
<text x="329.0" y="108.1" font-size="9" text-anchor="end">0.6</text>
<line x1="331.2" y1="59.2" x2="336.4" y2="59.2" stroke="#7c7c7c" stroke-width="1.1"/>
<text x="329.0" y="62.4" font-size="9" text-anchor="end">0.8</text>
<line x1="331.2" y1="13.5" x2="336.4" y2="13.5" stroke="#7c7c7c" stroke-width="1.1"/>
<path transform="translate(316.49,16.70) scale(0.00439,-0.00439)" d="M763 0H583V1147Q518 1085 412 1023Q307 961 223 930V1104Q374 1175 487 1276Q600 1377 647 1472H763Z" fill="#1e1e1e" stroke="#1e1e1e" stroke-width="63.7"/><text x="321.49" y="16.7" font-size="9">.0</text>
<line x1="345.2" y1="250.4" x2="345.2" y2="255.0" stroke="#7c7c7c" stroke-width="1.1"/>
<text x="345.2" y="265.8" font-size="9" text-anchor="middle">0.0</text>
<line x1="391.6" y1="250.4" x2="391.6" y2="255.0" stroke="#7c7c7c" stroke-width="1.1"/>
<text x="391.6" y="265.8" font-size="9" text-anchor="middle">0.2</text>
<line x1="438.1" y1="250.4" x2="438.1" y2="255.0" stroke="#7c7c7c" stroke-width="1.1"/>
<text x="438.1" y="265.8" font-size="9" text-anchor="middle">0.4</text>
<line x1="484.5" y1="250.4" x2="484.5" y2="255.0" stroke="#7c7c7c" stroke-width="1.1"/>
<text x="484.5" y="265.8" font-size="9" text-anchor="middle">0.6</text>
<line x1="531.0" y1="250.4" x2="531.0" y2="255.0" stroke="#7c7c7c" stroke-width="1.1"/>
<text x="531.0" y="265.8" font-size="9" text-anchor="middle">0.8</text>
<line x1="577.4" y1="250.4" x2="577.4" y2="255.0" stroke="#7c7c7c" stroke-width="1.1"/>
<path transform="translate(571.14,265.80) scale(0.00439,-0.00439)" d="M763 0H583V1147Q518 1085 412 1023Q307 961 223 930V1104Q374 1175 487 1276Q600 1377 647 1472H763Z" fill="#1e1e1e" stroke="#1e1e1e" stroke-width="63.7"/><text x="576.15" y="265.8" font-size="9">.0</text>
<text x="459.2" y="280.1" font-size="8.7" text-anchor="middle">Predicted probability deep SSI</text>
<text transform="translate(308,129.4) rotate(-90)" font-size="8.6" text-anchor="middle">Actual Probability</text>
<text x="298.9" y="9.7" font-size="10.8">(b)</text>
<line x1="477.5" y1="179.4" x2="491.9" y2="179.4" stroke="#cfcfcf" stroke-width="0.9"/>
<line x1="477.5" y1="179.4" x2="491.9" y2="179.4" stroke="#8a8a8a" stroke-width="0.9" stroke-dasharray="0.9,1.9"/>
<line x1="477.5" y1="188.6" x2="491.9" y2="188.6" stroke="#686868" stroke-width="1.25"/>
<line x1="478" y1="198.3" x2="491.4" y2="198.3" stroke="#5a5a5a" stroke-width="1.15" stroke-dasharray="1.9,1.95"/>
<text x="495.2" y="180.5" font-size="8.6">Apparent</text>
<text x="495.2" y="191.4" font-size="8.6">Bias-corrected</text>
<text x="495.2" y="201.4" font-size="8.6">Ideal</text>
</g>
</g></svg></body></html>
